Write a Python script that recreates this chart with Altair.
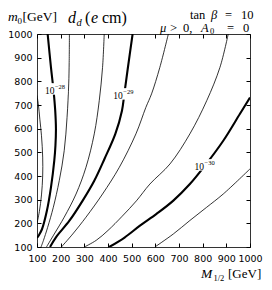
import altair as alt
import pandas as pd

# ---- data: contour lines (M_1/2 [GeV], m0 [GeV]) ----
c2e28_M = [100, 106, 112, 119, 124, 124, 119, 110, 100]
c2e28_m0 = [740, 700, 640, 570, 480, 400, 320, 250, 200]

c1e28_M = [145, 159, 170, 177, 180, 178, 173, 159, 142, 121, 108, 100]
c1e28_m0 = [1000, 859, 760, 676, 600, 530, 465, 352, 254, 175, 150, 138]

c5e29_M = [237, 236, 234, 227, 215, 194, 169, 145, 127, 117]
c5e29_m0 = [1000, 880, 789, 648, 507, 380, 268, 183, 127, 100]

c2e29_M = [384, 377, 363, 342, 307, 265, 215, 173, 140]
c2e29_m0 = [1000, 859, 718, 578, 437, 324, 226, 155, 100]

c1e29_M = [504, 483, 469, 459, 431, 385, 342, 293, 237, 180, 155]
c1e29_m0 = [1000, 850, 747, 676, 578, 472, 380, 296, 211, 141, 100]

c5e30_M = [655, 619, 584, 560, 518, 448, 377, 307, 251, 203]
c5e30_m0 = [1000, 859, 747, 690, 578, 437, 324, 226, 155, 100]

c2e30_M = [908, 873, 817, 746, 662, 577, 520, 460, 400, 350, 300]
c2e30_m0 = [1000, 859, 718, 578, 451, 366, 295, 230, 170, 128, 100]

c1e30_M = [1000, 957, 887, 812, 746, 676, 605, 535, 470, 405]
c1e30_m0 = [732, 662, 549, 447, 366, 296, 240, 190, 140, 100]

c5e31_M = [1000, 887, 817, 746, 676, 598]
c5e31_m0 = [430, 324, 268, 212, 155, 100]

# shaded (excluded) region boundary
gray_m0 = [100, 226, 250, 296, 330, 366, 400, 437, 470, 507, 540, 578, 600, 620, 635, 648]
gray_M = [211, 211, 210, 208, 205, 201, 195, 187, 177, 166, 158, 145, 133, 121, 110, 100]

# contour labels
lab_M = [180, 469, 812]
lab_m0 = [768, 747, 447]
lab_exp = ["\u221228", "\u221229", "\u221230"]

ticks = [100, 200, 300, 400, 500, 600, 700, 800, 900, 1000]

contours = [
    ("2e-28", "thin", c2e28_M, c2e28_m0),
    ("1e-28", "thick", c1e28_M, c1e28_m0),
    ("5e-29", "thin", c5e29_M, c5e29_m0),
    ("2e-29", "thin", c2e29_M, c2e29_m0),
    ("1e-29", "thick", c1e29_M, c1e29_m0),
    ("5e-30", "thin", c5e30_M, c5e30_m0),
    ("2e-30", "thin", c2e30_M, c2e30_m0),
    ("1e-30", "thick", c1e30_M, c1e30_m0),
    ("5e-31", "thin", c5e31_M, c5e31_m0),
]
rows = []
for name, w, Ms, ms in contours:
    for i, (a, b) in enumerate(zip(Ms, ms)):
        rows.append({"level": name, "weight": w, "M": a, "m0": b, "idx": i})
lines_df = pd.DataFrame(rows)
gray_df = pd.DataFrame({"m0": gray_m0, "M": gray_M})
lab_df = pd.DataFrame({"M": lab_M, "m0": lab_m0, "exp": lab_exp})
one = pd.DataFrame({"k": [0]})

xs = alt.Scale(domain=[100, 1000], nice=False, zero=False)
ys = alt.Scale(domain=[100, 1000], nice=False, zero=False)

LF = "DejaVu Sans"
SERIF = "Liberation Serif"


def lab_axis(orient, pad):
    return alt.Axis(values=ticks, orient=orient, ticks=False, tickSize=0, domain=False,
                    grid=False, title=None, labelFont=LF, labelFontSize=9.5, format="d",
                    labelColor="black", labelPadding=pad, labelFlush=False,
                    labelOverlap=False)


def tick_axis(orient):
    return alt.Axis(values=ticks, orient=orient, labels=False, ticks=True, tickSize=4,
                    tickColor="black", tickWidth=1, domain=False, grid=False,
                    title=None, offset=-4)


gray = alt.Chart(gray_df).mark_area(orient="horizontal", interpolate="monotone",
                                    color="#c8c8c8").encode(
    x=alt.X("M:Q", scale=xs, axis=lab_axis("bottom", 6)),
    x2=alt.datum(100),
    y=alt.Y("m0:Q", scale=ys, axis=lab_axis("left", 5)),
    order="m0:Q",
)

lines = alt.Chart(lines_df).mark_line(interpolate="catmull-rom", color="black",
                                      clip=True).encode(
    x=alt.X("M:Q", scale=xs, axis=tick_axis("bottom")),
    y=alt.Y("m0:Q", scale=ys, axis=tick_axis("left")),
    detail="level:N",
    order="idx:Q",
    strokeWidth=alt.StrokeWidth("weight:N", scale=alt.Scale(domain=["thick", "thin"],
                                                              range=[2.1, 0.8]),
                                legend=None),
)

boxes = alt.Chart(lab_df).mark_point(shape="M-1,-0.5L1,-0.5L1,0.5L-1,0.5Z", filled=True,
                                     color="white", opacity=1, size=529).encode(
    x=alt.X("M:Q", scale=xs, axis=tick_axis("top")),
    y=alt.Y("m0:Q", scale=ys, axis=tick_axis("right")),
)

ten = alt.Chart(lab_df).mark_text(text="10", font=SERIF, fontSize=9.5, align="left",
                                  baseline="middle", dx=-11, dy=2, color="black").encode(
    x=alt.X("M:Q", scale=xs, axis=None), y=alt.Y("m0:Q", scale=ys, axis=None))
expo = alt.Chart(lab_df).mark_text(font=SERIF, fontSize=6.5, align="left",
                                   baseline="middle", dx=-1, dy=-2, color="black").encode(
    x=alt.X("M:Q", scale=xs, axis=None), y=alt.Y("m0:Q", scale=ys, axis=None),
    text="exp:N")


def txt(s, px, py, size, style="normal", align="left"):
    return alt.Chart(one).mark_text(text=s, font=SERIF, fontSize=size, fontStyle=style,
                                    align=align, baseline="alphabetic",
                                    color="black").encode(
        x=alt.value(px - 37), y=alt.value(py - 34))


texts = [
    txt("m", 8, 21, 13.5, "italic"),
    txt("0", 17.5, 24, 9),
    txt("[GeV]", 22.5, 21, 13.5),
    txt("d", 68, 22.5, 16, "italic"),
    txt("d", 76.5, 25.5, 10.5, "italic"),
    txt("(", 85, 22.5, 16),
    txt("e", 91, 22.5, 16, "italic"),
    txt("cm)", 102, 22.5, 16),
    txt("tan", 190, 19, 12.5),
    txt("\u03b2", 211, 19, 12.5, "italic"),
    txt("=", 225, 19, 12.5),
    txt("10", 241, 19, 12.5),
    txt("\u03bc", 160, 31.5, 12.5, "italic"),
    txt(">", 170, 31.5, 12.5),
    txt("0,", 183, 31.5, 12.5),
    txt("A", 201, 31.5, 12.5, "italic"),
    txt("0", 210, 34, 8.5),
    txt("=", 227, 31.5, 12.5),
    txt("0", 243, 31.5, 12.5),
    txt("M", 201, 278, 13.5, "italic"),
    txt("1/2", 213.5, 281, 8.5),
    txt("[GeV]", 228, 278, 13),
]

chart = alt.layer(gray, lines, boxes, ten, expo, *texts).resolve_axis(
    x="independent", y="independent"
).properties(
    width=213, height=213,
    autosize=alt.AutoSizeParams(type="none"),
    padding={"left": 29, "top": 26, "right": 13, "bottom": 35},
).configure_view(stroke="#333", strokeWidth=1)

chart.save("out.html", embed_options={"renderer": "svg", "actions": False})
